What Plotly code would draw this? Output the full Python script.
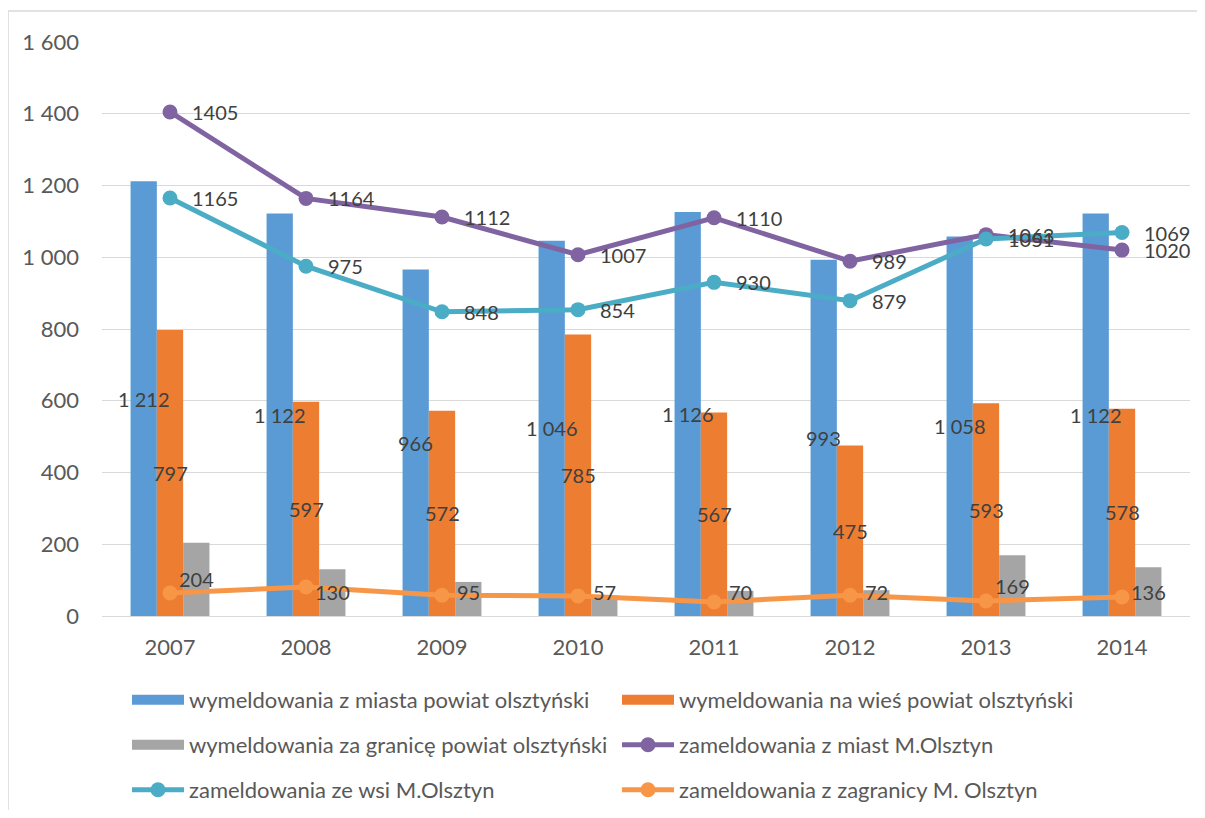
import plotly.graph_objects as go

years = ['2007', '2008', '2009', '2010', '2011', '2012', '2013', '2014']
wym_miasta = [1212, 1122, 966, 1046, 1126, 993, 1058, 1122]
wym_wies = [797, 597, 572, 785, 567, 475, 593, 578]
wym_granica = [204, 130, 95, 57, 70, 72, 169, 136]
zam_miast = [1405, 1164, 1112, 1007, 1110, 989, 1063, 1020]
zam_wsi = [1165, 975, 848, 854, 930, 879, 1051, 1069]
zam_zagranica = [64, 81, 58, 56, 39, 58, 42, 53]

names = [
    'wymeldowania z miasta powiat olsztyński',
    'wymeldowania na wieś powiat olsztyński',
    'wymeldowania za granicę powiat olsztyński',
    'zameldowania z miast M.Olsztyn',
    'zameldowania ze wsi M.Olsztyn',
    'zameldowania z zagranicy M. Olsztyn',
]
bar_colors = ['#5B9BD5', '#ED7D31', '#A5A5A5']
line_colors = ['#8064A2', '#4BACC6', '#F79646']

FONT = 'Lato'
LABEL = '#404040'
AXIS = '#595959'

OFF = 8  # default page body margin
W, H = 1205 - 2 * OFF, 818 - 2 * OFF
ML, MT = 102 - OFF, 42 - OFF
PW, PH = 1088, 574
MR = W - ML - PW
MB = H - MT - PH
BARGAP = 0.42
cat_px = PW / len(years)
bar_px = cat_px * (1 - BARGAP) / 3
LABEL_FLOOR = 66  # small-bar labels keep clear of the axis


def px_x(p):  # page pixel -> paper x
    return (p - OFF - ML) / PW


def px_y(p):  # page pixel -> paper y
    return (MT + PH - (p - OFF)) / PH


fig = go.Figure()
annotations = []
for k, (vals, name, col) in enumerate(zip([wym_miasta, wym_wies, wym_granica], names[:3], bar_colors)):
    fig.add_trace(go.Bar(
        x=years, y=vals, name=name, marker=dict(color=col, line=dict(width=0)),
        showlegend=False,
    ))
    for i, v in enumerate(vals):
        annotations.append(dict(
            x=i, y=max(v / 2, LABEL_FLOOR), xref='x', yref='y',
            text=f'{v:,d}'.replace(',', ' '),
            showarrow=False, xshift=(k - 1) * bar_px,
            font=dict(family=FONT, size=20, color=LABEL)))

for vals, name, col, lab in zip([zam_miast, zam_wsi, zam_zagranica], names[3:], line_colors,
                                [True, True, False]):
    fig.add_trace(go.Scatter(
        x=years, y=vals, name=name, mode='lines+markers',
        line=dict(color=col, width=5),
        marker=dict(color=col, size=15),
        showlegend=False,
    ))
    if lab:
        for i, v in enumerate(vals):
            annotations.append(dict(
                x=i, y=v, xref='x', yref='y', text=str(v), showarrow=False,
                xanchor='left', xshift=20,
                font=dict(family=FONT, size=20, color=LABEL)))

# legend entries (three rows, two columns)
legend_ids = ['legend', 'legend', 'legend2', 'legend2', 'legend3', 'legend3']
for i, name in enumerate(names):
    if i < 3:
        fig.add_trace(go.Scatter(
            x=[None], y=[None], name=name, mode='lines',
            line=dict(color=bar_colors[i], width=17),
            legend=legend_ids[i], showlegend=True, hoverinfo='skip'))
    else:
        c = line_colors[i - 3]
        fig.add_trace(go.Scatter(
            x=[None], y=[None], name=name, mode='lines+markers',
            line=dict(color=c, width=5), marker=dict(color=c, size=15),
            legend=legend_ids[i], showlegend=True, hoverinfo='skip'))

leg_common = dict(orientation='h', entrywidth=423, entrywidthmode='pixels',
                  itemwidth=52, font=dict(family=FONT, size=22, color=AXIS),
                  bgcolor='rgba(0,0,0,0)', xanchor='left', yanchor='middle',
                  x=px_x(127), itemclick=False, itemdoubleclick=False)

fig.update_layout(
    width=W, height=H,
    margin=dict(l=ML, r=MR, t=MT, b=MB, autoexpand=False),
    paper_bgcolor='white', plot_bgcolor='white',
    barmode='group', bargap=BARGAP, bargroupgap=0,
    font=dict(family=FONT, size=20, color=AXIS),
    legend=dict(**leg_common, y=px_y(700)),
    legend2=dict(**leg_common, y=px_y(745)),
    legend3=dict(**leg_common, y=px_y(790)),
    xaxis=dict(type='category', range=[-0.5, len(years) - 0.5],
               showgrid=False, showline=True, linecolor='#D9D9D9',
               linewidth=1, ticks='', ticklabelstandoff=12,
               tickfont=dict(family=FONT, size=22, color=AXIS)),
    yaxis=dict(range=[0, 1600], tickvals=[0, 200, 400, 600, 800, 1000, 1200, 1400, 1600],
               ticktext=['0', '200', '400', '600', '800', '1 000', '1 200', '1 400', '1 600'],
               showgrid=True, gridcolor='#D9D9D9', gridwidth=1, zeroline=False,
               showline=False, ticks='', ticklabelstandoff=22,
               tickfont=dict(family=FONT, size=22, color=AXIS)),
    annotations=annotations,
    shapes=[dict(type='rect', xref='paper', yref='paper',
                 x0=px_x(8), x1=px_x(1230), y0=px_y(840), y1=px_y(11),
                 line=dict(color='#D9D9D9', width=1.5), fillcolor='rgba(0,0,0,0)',
                 layer='below')],
)

fig.write_html('out.html')
